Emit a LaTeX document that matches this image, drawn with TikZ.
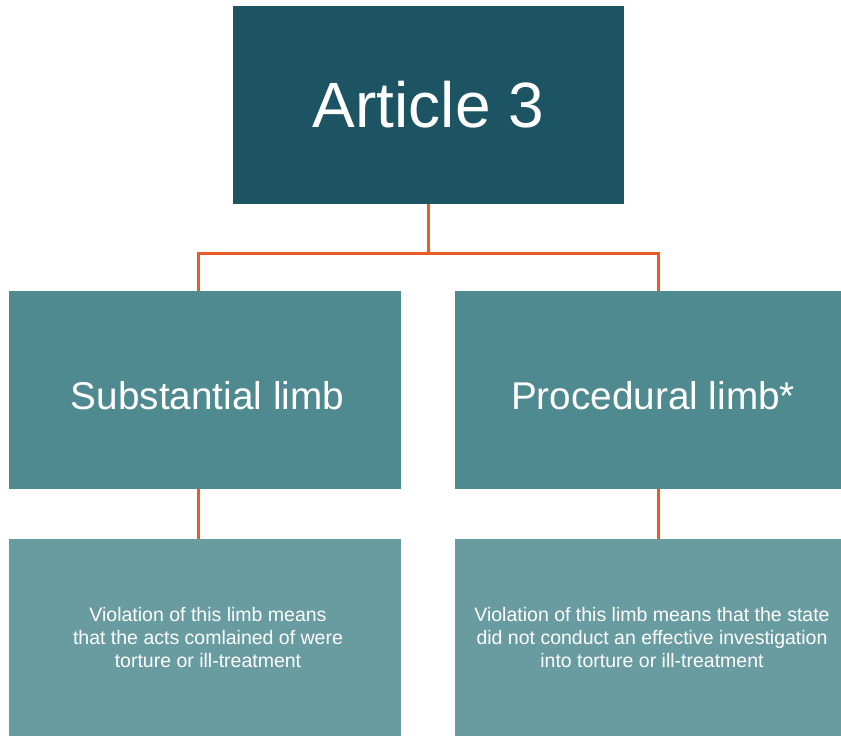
\documentclass[tikz,border=0pt]{standalone}
\usepackage{fontspec}
\setmainfont{Liberation Sans}
\usetikzlibrary{calc}
\definecolor{topc}{HTML}{1C5463}
\definecolor{midc}{HTML}{4F8A91}
\definecolor{botc}{HTML}{699CA1}
\definecolor{orng}{HTML}{E85D26}
\begin{document}
\begin{tikzpicture}[x=1pt,y=1pt,
  boxbase/.style={inner sep=0pt, outer sep=0pt, text=white, align=center},
  topbox/.style={boxbase, fill=topc, minimum width=391pt, minimum height=198pt, font=\fontsize{64}{70}\selectfont},
  midbox/.style={boxbase, fill=midc, minimum height=198pt, font=\fontsize{38.7}{44}\selectfont},
  botbox/.style={boxbase, fill=botc, minimum height=197pt, font=\fontsize{19.5}{23}\selectfont},
  conn/.style={draw=orng, line width=3pt}]
\useasboundingbox (0,0) rectangle (841,-736);
\node[topbox] (top) at (428.5,-105) {Article 3};
\node[midbox, minimum width=392pt] (midL) at (205,-390) {\hspace*{5pt}\raisebox{-19pt}[0pt][0pt]{Substantial limb}};
\node[midbox, minimum width=386pt] (midR) at (648,-390) {\hspace*{10pt}\raisebox{-19pt}[0pt][0pt]{Procedural limb*}};
\node[botbox, minimum width=392pt] (botL) at (205,-637.5) {\hspace*{6pt}Violation of this limb means\\\hspace*{6pt}that the acts comlained of were\\\hspace*{6pt}torture or ill-treatment};
\node[botbox, minimum width=386pt] (botR) at (648,-637.5) {\hspace*{8pt}Violation of this limb means that the state\\\hspace*{8pt}did not conduct an effective investigation\\\hspace*{8pt}into torture or ill-treatment};
\coordinate (j) at (428.5,-253);
\draw[conn] (top.south) -- (j);
\draw[conn] ([xshift=-7pt]midL.north) |- (j) -| ([xshift=10.5pt]midR.north);
\draw[conn] ([xshift=-7pt]midL.south) -- ([xshift=-7pt]botL.north);
\draw[conn] ([xshift=10.5pt]midR.south) -- ([xshift=10.5pt]botR.north);
\end{tikzpicture}
\end{document}
